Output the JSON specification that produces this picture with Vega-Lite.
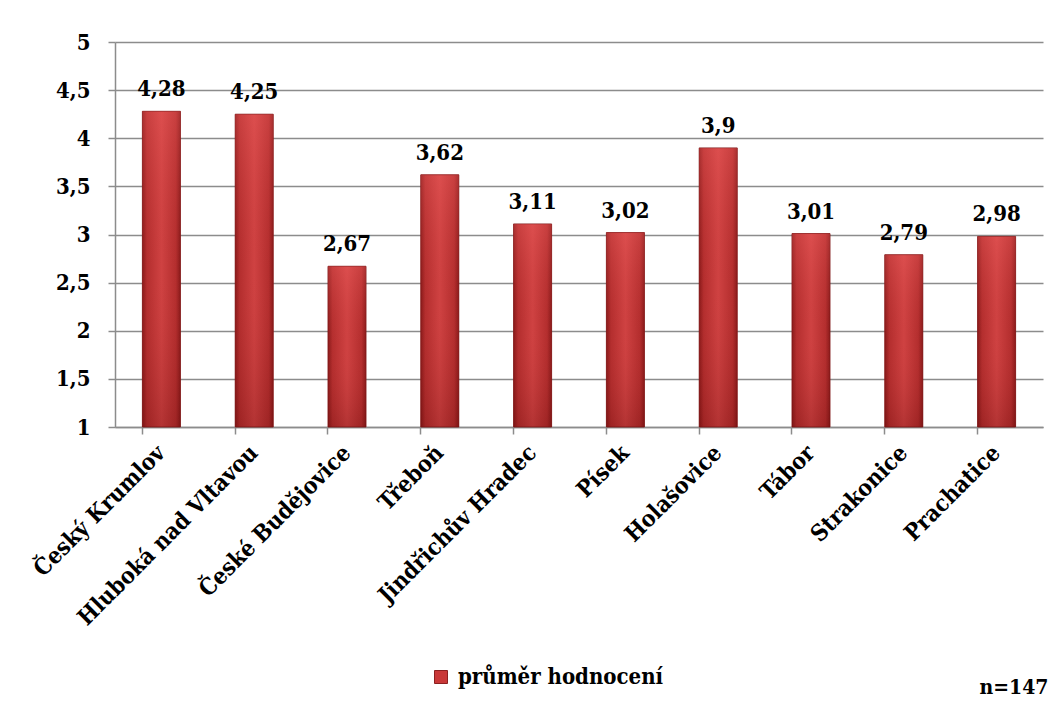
{
  "$schema": "https://vega.github.io/schema/vega-lite/v6.json",
  "width": 928,
  "height": 385,
  "autosize": "none",
  "padding": {"left": 115, "top": 42, "right": 15, "bottom": 281},
  "background": "white",
  "config": {
    "locale": {"number": {"decimal": ",", "thousands": " ", "grouping": [3], "currency": ["", " Kč"]}},
    "font": "DejaVu Serif Condensed",
    "view": {"stroke": null}
  },
  "data": {
    "values": [
      {"mesto": "Český Krumlov", "prumer": 4.28},
      {"mesto": "Hluboká nad Vltavou", "prumer": 4.25},
      {"mesto": "České Budějovice", "prumer": 2.67},
      {"mesto": "Třeboň", "prumer": 3.62},
      {"mesto": "Jindřichův Hradec", "prumer": 3.11},
      {"mesto": "Písek", "prumer": 3.02},
      {"mesto": "Holašovice", "prumer": 3.9},
      {"mesto": "Tábor", "prumer": 3.01},
      {"mesto": "Strakonice", "prumer": 2.79},
      {"mesto": "Prachatice", "prumer": 2.98}
    ]
  },
  "encoding": {
    "x": {
      "field": "mesto",
      "type": "nominal",
      "sort": null,
      "scale": {"paddingInner": 0.59, "paddingOuter": 0.295},
      "axis": {
        "title": "n=147",
        "titleX": 933,
        "titleY": 266,
        "titleAlign": "right",
        "titleAnchor": null,
        "titleBaseline": "alphabetic",
        "titleFontSize": 21,
        "titleFontWeight": "bold",
        "titleColor": "black",
        "titleFont": "DejaVu Serif Condensed",
        "labelFont": "DejaVu Serif Condensed",
        "labelAngle": -45,
        "labelAlign": "right",
        "labelBaseline": "middle",
        "labelFontSize": 23,
        "labelFontWeight": "bold",
        "labelColor": "black",
        "labelPadding": 15,
        "labelLimit": 0,
        "bandPosition": 0,
        "tickSize": 7,
        "tickColor": "#8c8c8c",
        "tickWidth": 1.5,
        "domainColor": "#8c8c8c",
        "domainWidth": 1.5,
        "grid": false,
        "labelOverlap": false
      }
    },
    "y": {
      "field": "prumer",
      "type": "quantitative",
      "scale": {"domain": [1, 5], "nice": false, "zero": false},
      "axis": {
        "title": null,
        "values": [1, 1.5, 2, 2.5, 3, 3.5, 4, 4.5, 5],
        "format": ".1~f",
        "labelFont": "DejaVu Serif Condensed",
        "labelFontSize": 22,
        "labelFontWeight": "bold",
        "labelColor": "black",
        "labelPadding": 18,
        "tickSize": 7,
        "tickColor": "#8c8c8c",
        "tickWidth": 1.5,
        "gridColor": "#8c8c8c",
        "gridWidth": 1.5,
        "domainColor": "#8c8c8c",
        "domainWidth": 1.5,
        "labelOverlap": false
      }
    }
  },
  "layer": [
    {
      "mark": {"type": "bar"},
      "encoding": {
        "y2": {"datum": 1},
        "color": {
          "datum": "průměr hodnocení",
          "type": "nominal",
          "scale": {"range": ["#c93838"]},
          "legend": {
            "orient": "none",
            "legendX": 315,
            "legendY": 624,
            "title": null,
            "padding": 0,
            "symbolType": "square",
            "symbolSize": 169,
            "symbolStrokeColor": "#8b2020",
            "symbolStrokeWidth": 1,
            "labelFontSize": 22,
            "labelFontWeight": "bold",
            "labelColor": "black",
            "labelFont": "DejaVu Serif Condensed",
            "labelLimit": 0,
            "labelOffset": 6
          }
        }
      }
    },
    {
      "mark": {
        "type": "bar",
        "stroke": "#7d1818",
        "strokeWidth": 0.8,
        "fill": {
          "gradient": "linear",
          "x1": 0, "y1": 0, "x2": 1, "y2": 0,
          "stops": [
            {"offset": 0, "color": "#8a1a1a"},
            {"offset": 0.12, "color": "#b42e2e"},
            {"offset": 0.5, "color": "#cf4242"},
            {"offset": 0.88, "color": "#b42e2e"},
            {"offset": 1, "color": "#8a1a1a"}
          ]
        }
      },
      "encoding": {"y2": {"datum": 1}}
    },
    {
      "mark": {
        "type": "bar",
        "fill": {
          "gradient": "linear",
          "x1": 0, "y1": 0, "x2": 0, "y2": 1,
          "stops": [
            {"offset": 0, "color": "rgba(255,110,110,0.28)"},
            {"offset": 0.5, "color": "rgba(200,60,60,0)"},
            {"offset": 1, "color": "rgba(80,0,0,0.22)"}
          ]
        }
      },
      "encoding": {"y2": {"datum": 1}}
    },
    {
      "mark": {
        "type": "text",
        "dy": -15,
        "baseline": "alphabetic",
        "font": "DejaVu Serif Condensed",
        "fontSize": 22,
        "fontWeight": "bold",
        "color": "black"
      },
      "encoding": {"text": {"field": "prumer", "type": "quantitative", "format": ".2~f"}}
    }
  ]
}
